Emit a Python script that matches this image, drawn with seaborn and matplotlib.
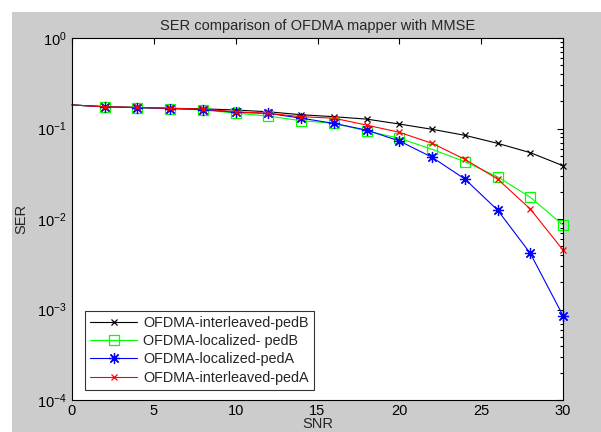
import matplotlib
matplotlib.use("Agg")
import matplotlib.pyplot as plt
from matplotlib.patches import Rectangle
from matplotlib.ticker import LogLocator, NullFormatter
import seaborn as sns

# values
snr = [0, 2, 4, 6, 8, 10, 12, 14, 16, 18, 20, 22, 24, 26, 28, 30]
ser_interleaved_pedB = [0.182, 0.174, 0.171, 0.167, 0.165, 0.160, 0.153, 0.142,
                        0.135, 0.127, 0.112, 0.098, 0.0841, 0.0686, 0.0541, 0.0388]
ser_localized_pedB = [0.182, 0.174, 0.170, 0.166, 0.160, 0.148, 0.137, 0.122,
                      0.114, 0.094, 0.078, 0.0589, 0.0430, 0.0293, 0.0174, 0.0086]
ser_localized_pedA = [0.182, 0.174, 0.170, 0.166, 0.162, 0.151, 0.147, 0.130,
                      0.114, 0.096, 0.0728, 0.0481, 0.0277, 0.01256, 0.00418, 0.000855]
ser_interleaved_pedA = [0.182, 0.174, 0.171, 0.167, 0.164, 0.153, 0.147, 0.135,
                        0.130, 0.109, 0.0908, 0.0686, 0.0457, 0.0277, 0.0129, 0.00454]

# asterisk marker like matlab's '*'
asterisk = (8, 2, 0)
series = [
    ("OFDMA-interleaved-pedB", ser_interleaved_pedB, "#000000", "x", 4),
    ("OFDMA-localized- pedB", ser_localized_pedB, "#00ff00", "s", 7),
    ("OFDMA-localized-pedA", ser_localized_pedA, "#0000ff", asterisk, 8),
    ("OFDMA-interleaved-pedA", ser_interleaved_pedA, "#ff0000", "x", 5),
]

sns.set_style("white")
plt.rcParams["font.family"] = ["Liberation Sans", "DejaVu Sans"]

fig = plt.figure(figsize=(6.01, 4.32), dpi=100)
fig.patch.set_facecolor("white")
fig.add_artist(Rectangle((12 / 601, 0), 1, 420 / 432, transform=fig.transFigure,
                         facecolor="#cccccc", edgecolor="none", zorder=-10))
ax = fig.add_axes([72 / 601, 32 / 432, 491 / 601, 362 / 432])
ax.set_facecolor("white")

for label, values, color, marker, msize in series:
    sns.lineplot(x=snr, y=values, ax=ax, color=color, marker=marker,
                 markersize=msize, markevery=slice(1, None), linewidth=0.8,
                 markerfacecolor="none" if marker == "s" else color,
                 markeredgecolor=color, markeredgewidth=0.9, label=label,
                 clip_on=False)

ax.set_yscale("log")
ax.set_xlim(0, 30)
ax.set_ylim(1e-4, 1)
ax.set_xticks([0, 5, 10, 15, 20, 25, 30])
ax.yaxis.set_major_locator(LogLocator(base=10, numticks=10))
ax.yaxis.set_minor_locator(LogLocator(base=10, subs=range(2, 10), numticks=20))
ax.yaxis.set_minor_formatter(NullFormatter())

ax.tick_params(axis="both", which="both", direction="in", top=True, right=True,
               labelsize=10.5, colors="black", width=0.8, pad=4)
ax.tick_params(axis="x", pad=3)
ax.tick_params(which="major", length=4)
ax.tick_params(which="minor", length=2.5)
for spine in ax.spines.values():
    spine.set_color("black")
    spine.set_linewidth(0.8)

ax.set_title("SER comparison of OFDMA mapper with MMSE", fontsize=10.5, pad=6)
ax.set_xlabel("SNR", fontsize=10.5)
ax.xaxis.set_label_coords(0.5, -0.048)
ax.set_ylabel("SER", fontsize=10.5, labelpad=6)

leg = ax.legend(loc="lower left", bbox_to_anchor=(0.026, 0.028), fontsize=10.4,
                frameon=True, fancybox=False, handlelength=3.3, handletextpad=0.4,
                borderpad=0.35, labelspacing=0.3, borderaxespad=0)
leg.get_frame().set_edgecolor("black")
leg.get_frame().set_linewidth(0.8)

fig.savefig("out.png", dpi=100)
